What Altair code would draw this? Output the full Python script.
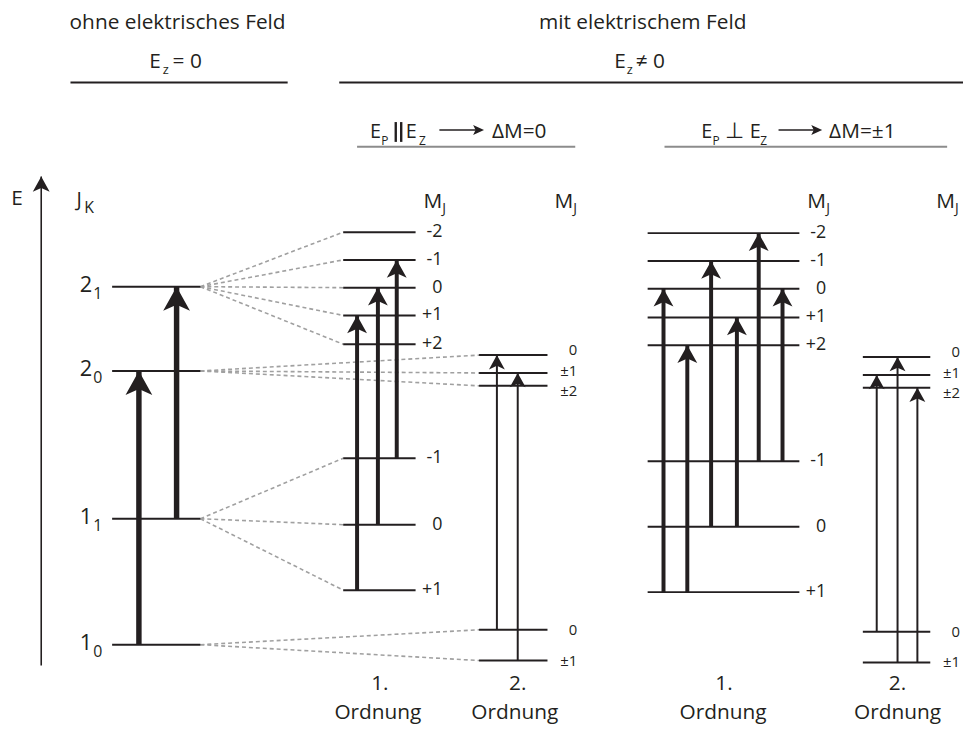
import altair as alt
import pandas as pd

INK = "#231f20"
DASH_GREY = "#a0a0a0"
RULE_GREY = "#8c8c8c"
FONT = "Open Sans"

W, H = 963, 720          # drawing area in screen pixels
XD = [8, 8 + W]          # x domain == screen pixel column
YD = [8, 8 + H]          # y domain == screen pixel row (top = 8)

# ---------------- level data (screen rows) ----------------
jk_main = ["2", "2", "1", "1"]
jk_sub = ["1", "0", "1", "0"]
jk_y = [286, 371, 520, 647]

par1_up_lab = ["-2", "-1", "0", "+1", "+2"]
par1_up_y = [231, 259, 287, 315, 344]
par1_lo_lab = ["-1", "0", "+1"]
par1_lo_y = [459, 526, 592]
par2_up_lab = ["0", "±1", "±2"]
par2_up_dy = [-5, -2, 5]         # labels spread slightly around the crowded levels
par2_up_y = [355, 373, 386]
par2_lo_lab = ["0", "±1"]
par2_lo_y = [632, 663]

perp1_up_y = [232, 260, 288, 317, 345]
perp1_lo_y = [462, 528, 594]
perp2_up_y = [357, 375, 388]
perp2_lo_y = [634, 665]

# column extents (x from, x to, label right edge, label size)
col_left = (113, 202)
col_par1 = (346, 419, 446, 18)
col_par2 = (483, 552, 582, 15)
col_perp1 = (653, 806, 833, 18)
col_perp2 = (870, 938, 968, 15)

# transitions: (lower level index, upper level index)
left_arrow_x = [140, 178]
left_trans = [(3, 1), (2, 0)]
par1_arrow_x = [360, 381, 400]
par1_trans = [(2, 3), (1, 2), (0, 1)]
par2_arrow_x = [501, 522]
par2_trans = [(0, 0), (1, 1)]
perp1_arrow_x = [669, 693, 717, 743, 765, 789]
perp1_trans = [(2, 2), (2, 4), (1, 1), (1, 3), (0, 0), (0, 2)]
perp2_arrow_x = [884, 905, 925]
perp2_trans = [(0, 1), (1, 0), (1, 2)]

HEAD_UP = "M0,0 L1,1.8 L0,1.35 L-1,1.8 Z"
HEAD_RIGHT = "M0,0 L-2.2,-1 L-1.7,0 L-2.2,1 Z"

xs = alt.Scale(domain=XD, nice=False, zero=False)
ys = alt.Scale(domain=YD, nice=False, zero=False, reverse=True)

# ---------------- build tables ----------------
levels = []
labels_r = []
def add_col(col, ys_, labs=None, dy=None):
    for i, y in enumerate(ys_):
        levels.append({"x": col[0], "x2": col[1], "y": y})
        if labs is not None:
            off = dy[i] if dy is not None else 0
            labels_r.append({"t": labs[i], "x": col[2], "y": y + off, "s": col[3]})

add_col(col_left, jk_y)
add_col(col_par1, par1_up_y, par1_up_lab)
add_col(col_par1, par1_lo_y, par1_lo_lab)
add_col(col_par2, par2_up_y, par2_up_lab, par2_up_dy)
add_col(col_par2, par2_lo_y, par2_lo_lab)
add_col(col_perp1, perp1_up_y, par1_up_lab)
add_col(col_perp1, perp1_lo_y, par1_lo_lab)
add_col(col_perp2, perp2_up_y, par2_up_lab, par2_up_dy)
add_col(col_perp2, perp2_lo_y, par2_lo_lab)
lev_df = pd.DataFrame(levels)

# dashed correlation lines (field-free level -> Stark components, ΔM=0 panel)
dash = []
for y in par1_up_y:
    dash.append({"x": col_left[1], "y": jk_y[0], "x2": col_par1[0], "y2": y})
for y in par2_up_y:
    dash.append({"x": col_left[1], "y": jk_y[1], "x2": col_par2[0], "y2": y})
for y in par1_lo_y:
    dash.append({"x": col_left[1], "y": jk_y[2], "x2": col_par1[0], "y2": y})
for y in par2_lo_y:
    dash.append({"x": col_left[1], "y": jk_y[3], "x2": col_par2[0], "y2": y})
dash_df = pd.DataFrame(dash)

arrows = []
def add_arrows(xlist, trans, lo, up, w, hs):
    for x, (a, b) in zip(xlist, trans):
        arrows.append({"x": x, "y": lo[a], "y2": up[b], "w": w, "hs": hs})

add_arrows(left_arrow_x, left_trans, jk_y, jk_y, 5.5, 729)
add_arrows(par1_arrow_x, par1_trans, par1_lo_y, par1_up_y, 4, 400)
add_arrows(par2_arrow_x, par2_trans, par2_lo_y, par2_up_y, 2, 256)
add_arrows(perp1_arrow_x, perp1_trans, perp1_lo_y, perp1_up_y, 4, 400)
add_arrows(perp2_arrow_x, perp2_trans, perp2_lo_y, perp2_up_y, 2, 256)
# energy axis
arrows.append({"x": 41.5, "y": 668, "y2": 175, "w": 1.6, "hs": 289})
arr_df = pd.DataFrame(arrows)

# straight black / grey header rules
hrules = pd.DataFrame([
    {"x": 71, "x2": 290, "y": 80, "c": INK, "w": 2},
    {"x": 342, "x2": 971, "y": 80, "c": INK, "w": 2},
    {"x": 360, "x2": 580, "y": 145, "c": RULE_GREY, "w": 2},
    {"x": 670, "x2": 955, "y": 145, "c": RULE_GREY, "w": 2},
    {"x": 443, "x2": 480, "y": 128, "c": INK, "w": 1.6},
    {"x": 785, "x2": 822, "y": 128, "c": INK, "w": 1.6},
])
hhead = pd.DataFrame([{"x": 488, "y": 128}, {"x": 829, "y": 128}])
# the "parallel" sign drawn as two short bars
vbars = pd.DataFrame([{"x": 399, "y": 120, "y2": 140}, {"x": 404.5, "y": 120, "y2": 140}])

# texts
center = [
    ("ohne elektrisches Feld", 179, 20, 21),
    ("mit elektrischem Feld", 648, 20, 21),
    ("z", 167, 68, 13), ("z", 635, 68, 13),
    ("P", 388, 139, 12), ("Z", 426, 139, 12),
    ("P", 722, 139, 12), ("Z", 770, 139, 12),
    ("⊥", 741, 129, 22),
    ("E", 17, 198, 21),
    ("1.", 383, 687, 21), ("Ordnung", 381, 716, 21),
    ("2.", 522, 687, 21), ("Ordnung", 519, 716, 21),
    ("1.", 730, 687, 21), ("Ordnung", 729, 716, 21),
    ("2.", 905, 687, 21), ("Ordnung", 905, 716, 21),
]
left = [
    ("= 0", 174, 59, 21), ("≠ 0", 641, 59, 21),
    ("E", 373, 130, 20), ("E", 409, 130, 20), ("ΔM=0", 496, 130, 21),
    ("E", 707, 130, 20), ("E", 756, 130, 20), ("ΔM=±1", 836, 130, 21),
    ("J", 77, 199, 20), ("K", 85, 207, 16),
]
for mx in [427, 559, 814, 944]:
    left.append(("M", mx, 201, 21))
    left.append(("J", mx + 19, 208, 14))
for s, y in zip(jk_sub, jk_y):
    left.append((s, 94, y + 7, 16))
right = [("E", 162, 59, 21), ("E", 631, 59, 21)]
for m, y in zip(jk_main, jk_y):
    right.append((m, 93, y - 2, 22))
for d in labels_r:
    right.append((d["t"], d["x"], d["y"], d["s"]))

def tdf(rows):
    return pd.DataFrame(rows, columns=["t", "x", "y", "s"])

def text_layer(rows, align):
    return alt.Chart(tdf(rows)).mark_text(
        align=align, baseline="middle", font=FONT, color=INK
    ).encode(
        x=alt.X("x:Q", scale=xs, axis=None),
        y=alt.Y("y:Q", scale=ys, axis=None),
        text="t:N",
        size=alt.Size("s:Q", scale=None, legend=None),
    )

X = lambda f="x": alt.X(f + ":Q", scale=xs, axis=None)
Y = lambda f="y": alt.Y(f + ":Q", scale=ys, axis=None)

dash_layer = alt.Chart(dash_df).mark_rule(
    color=DASH_GREY, strokeWidth=1.6, strokeDash=[4, 3]
).encode(x=X(), y=Y(), x2="x2:Q", y2="y2:Q")

lev_layer = alt.Chart(lev_df).mark_rule(color=INK, strokeWidth=2).encode(
    x=X(), x2="x2:Q", y=Y()
)

hr_layer = alt.Chart(hrules).mark_rule().encode(
    x=X(), x2="x2:Q", y=Y(),
    color=alt.Color("c:N", scale=None),
    strokeWidth=alt.StrokeWidth("w:Q", scale=None, legend=None),
)
hh_layer = alt.Chart(hhead).mark_point(
    shape=HEAD_RIGHT, filled=True, opacity=1, color=INK, size=100, strokeWidth=0
).encode(x=X(), y=Y())
vb_layer = alt.Chart(vbars).mark_rule(color=INK, strokeWidth=2.4).encode(
    x=X(), y=Y(), y2="y2:Q"
)

shaft_layer = alt.Chart(arr_df).mark_rule(color=INK).encode(
    x=X(), y=Y(), y2="y2:Q",
    strokeWidth=alt.StrokeWidth("w:Q", scale=None, legend=None),
)
head_layer = alt.Chart(arr_df).mark_point(
    shape=HEAD_UP, filled=True, opacity=1, color=INK, strokeWidth=0
).encode(
    x=X(), y=Y("y2"),
    size=alt.Size("hs:Q", scale=None, legend=None),
)

chart = alt.layer(
    dash_layer, lev_layer, hr_layer, hh_layer, vb_layer, shaft_layer, head_layer,
    text_layer(center, "center"), text_layer(left, "left"), text_layer(right, "right"),
).properties(
    width=W, height=H, padding=0, autosize=alt.AutoSizeParams(type="none"),
    background="white",
).configure_view(stroke=None)

chart.save("out.html", embed_options={"renderer": "svg", "actions": False})
